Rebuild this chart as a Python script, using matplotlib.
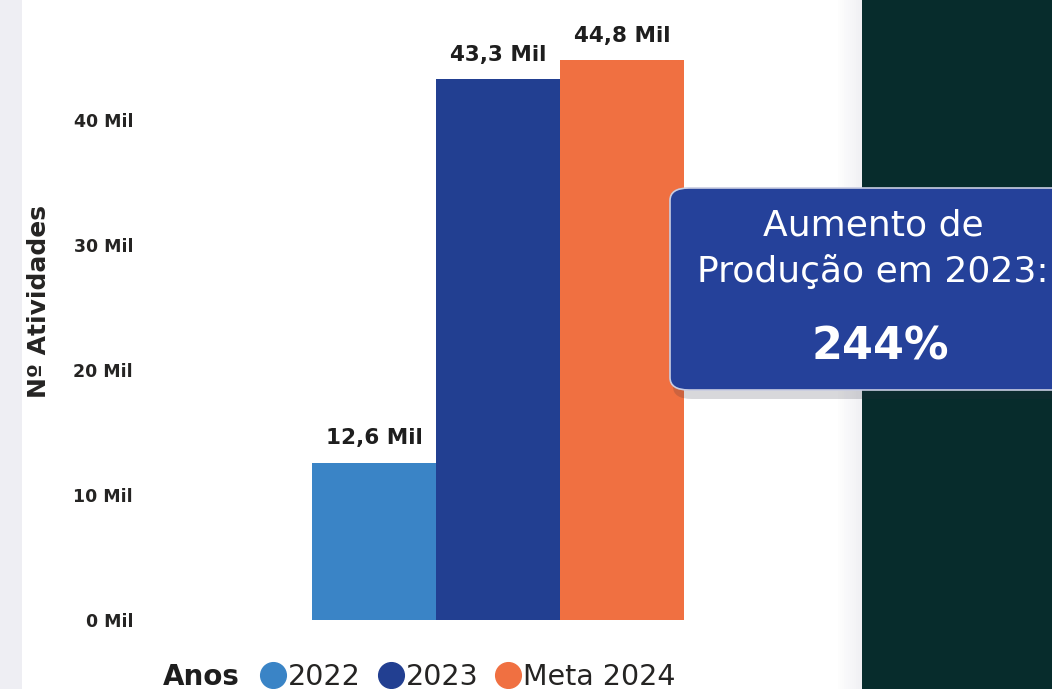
import matplotlib
matplotlib.use("Agg")
import matplotlib.pyplot as plt
from matplotlib.patches import Rectangle, FancyBboxPatch

categories = ["2022", "2023", "Meta 2024"]
values = [12.6, 43.3, 44.8]          # thousands
value_labels = ["12,6 Mil", "43,3 Mil", "44,8 Mil"]
colors = ["#3A84C6", "#223F91", "#F07041"]
yticks = [0, 10, 20, 30, 40]
ytick_labels = ["0 Mil", "10 Mil", "20 Mil", "30 Mil", "40 Mil"]
legend_title = "Anos"
callout_lines = ["Aumento de", "Produção em 2023:"]
callout_value = "244%"

W, H = 1052, 689
fig = plt.figure(figsize=(W / 100, H / 100), dpi=100)
fig.patch.set_facecolor("white")

def fx(px):
    return px / W

def fy(py):
    return 1 - py / H

# background decorations
fig.add_artist(Rectangle((0, 0), fx(22), 1, transform=fig.transFigure,
                         facecolor="#EEEEF3", edgecolor="none", zorder=0))
for i in range(12):
    fig.add_artist(Rectangle((fx(838 + i * 2), 0), fx(2), 1, transform=fig.transFigure,
                             facecolor="#D8D8E0", alpha=0.04 + 0.03 * i,
                             edgecolor="none", zorder=0))
fig.add_artist(Rectangle((fx(862), 0), 1 - fx(862), 1, transform=fig.transFigure,
                         facecolor="#072C2C", edgecolor="none", zorder=0))

# axes: value 0 at y=620px, 12.5 px per thousand; bars 124 px wide starting at x=312
ax_left, ax_right = 140, 860
ax = fig.add_axes([fx(ax_left), fy(620), fx(ax_right - ax_left), 620 / H])
ax.set_facecolor("none")
ax.set_ylim(0, 620 / 12.5)
bw = 124
ax.set_xlim((ax_left - 312) / bw - 0.5, (ax_right - 312) / bw - 0.5)

xs = list(range(len(categories)))
bars = ax.bar(xs, values, width=1.0, color=colors, edgecolor="none", zorder=2)
for x, v, lab in zip(xs, values, value_labels):
    ax.annotate(lab, (x, v), xytext=(0, 13), textcoords="offset points",
                ha="center", va="baseline", fontsize=15.5, fontweight="bold",
                color="#1E1E1E")

ax.set_yticks(yticks)
ax.set_yticklabels(ytick_labels, fontsize=12.5, fontweight="bold", color="#252423")
ax.tick_params(axis="y", length=0, pad=5)
ax.set_xticks([])
for s in ax.spines.values():
    s.set_visible(False)
ax.set_ylabel("Nº Atividades", fontsize=18, fontweight="bold", color="#252423",
              labelpad=0, va="center")
ax.yaxis.set_label_coords((39 - ax_left) / (ax_right - ax_left), (620 - 302) / 620)

# legend row
fig.text(fx(163), fy(685), legend_title, fontsize=20, fontweight="bold",
         color="#1E1E1E", ha="left", va="baseline")
leg_circle_x = [273, 391, 508]
leg_text_x = [288, 406, 523]
for cx, tx, c, lab in zip(leg_circle_x, leg_text_x, colors, categories):
    fig.lines.append(plt.Line2D([fx(cx)], [fy(675)], marker="o", markersize=18.5,
                                color=c, linestyle="none", transform=fig.transFigure))
    fig.text(fx(tx), fy(685), lab, fontsize=20.5, color="#252423",
             ha="left", va="baseline")

# callout box with shadow
bx0, by0, bx1, by1 = 670, 188, 1075, 390
shadow = FancyBboxPatch((fx(bx0 + 3), fy(by1 + 9)), fx(bx1 - bx0), fy(by0) - fy(by1),
                        boxstyle="round,pad=0,rounding_size=0.018",
                        transform=fig.transFigure, facecolor="#2A2A38", alpha=0.18,
                        edgecolor="none", zorder=3)
fig.add_artist(shadow)
box = FancyBboxPatch((fx(bx0), fy(by1)), fx(bx1 - bx0), fy(by0) - fy(by1),
                     boxstyle="round,pad=0,rounding_size=0.018",
                     transform=fig.transFigure, facecolor="#25419A",
                     edgecolor="#C9CDE2", linewidth=1.2, zorder=4)
fig.add_artist(box)
fig.text(fx(873), fy(235), callout_lines[0], fontsize=26, color="white",
         ha="center", va="baseline", zorder=5)
fig.text(fx(873), fy(282), callout_lines[1], fontsize=26, color="white",
         ha="center", va="baseline", zorder=5)
fig.text(fx(880), fy(360), callout_value, fontsize=32, fontweight="bold",
         color="white", ha="center", va="baseline", zorder=5)

fig.savefig("out.png", dpi=100)
